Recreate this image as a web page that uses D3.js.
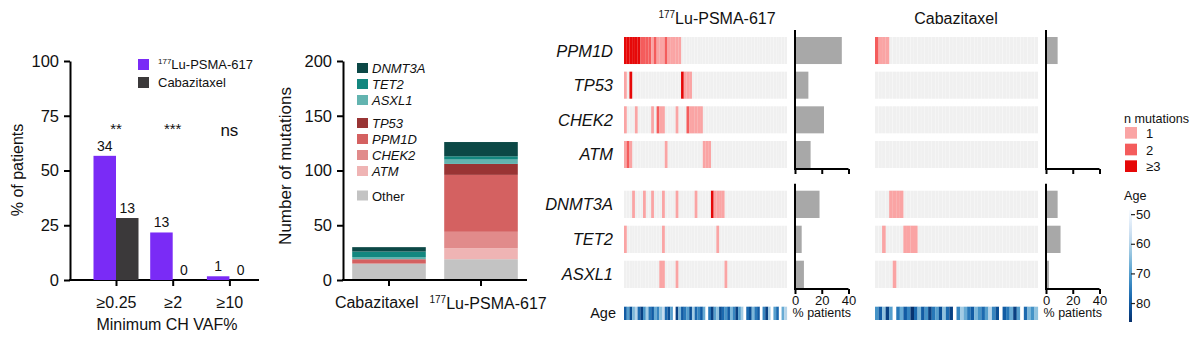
<!DOCTYPE html>
<html><head><meta charset="utf-8">
<script src="https://cdn.jsdelivr.net/npm/d3@7"></script>
<style>
body{margin:0;background:#fff;}
svg{display:block;font-family:"Liberation Sans",Arial,Helvetica,sans-serif;}
</style></head><body>
<svg id="c" width="1200" height="341"></svg>
<script>
// ---------- DATA ----------
// Panel A: % of patients with CH by minimum VAF
const vafCategories = ["≥0.25", "≥2", "≥10"];
const vafLu = [56.7, 21.7, 1.7];
const vafCab = [28.3, 0, 0];
const vafLuN = [34, 13, 1];
const vafCabN = [13, 0, 0];
const vafSig = ["**", "***", "ns"];
const vafTicks = [0, 25, 50, 75, 100];

// Panel B: number of mutations per gene
const stackArms = ["Cabazitaxel", "177Lu-PSMA-617"];
const stackGenes = ["Other", "ATM", "CHEK2", "PPM1D", "TP53", "ASXL1", "TET2", "DNMT3A"];
const stackCab = [15, 0, 0, 4, 0, 2, 5, 4];
const stackLu = [19, 10, 15, 52, 10, 4, 3, 13];
const stackTicks = [0, 50, 100, 150, 200];
const legendGenes = ["DNMT3A", "TET2", "ASXL1", "TP53", "PPM1D", "CHEK2", "ATM", "Other"];

// Panel C: oncoprint (n mutations per patient; 3 = ≥3)
const genesTop = ["PPM1D", "TP53", "CHEK2", "ATM"];
const genesBottom = ["DNMT3A", "TET2", "ASXL1"];
const nLu = 60;
const nCab = 46;
// sparse: [patient index, n mutations]
const luPPM1D = [[0,3],[1,3],[2,3],[3,3],[4,3],[5,3],[6,2],[7,2],[8,2],[9,2],[10,1],[11,2],[12,1],[13,1],[14,1],[15,2],[16,1],[17,1],[18,1],[19,1],[20,1]];
const luTP53 = [[0,1],[2,3],[21,3],[22,1],[23,1],[24,1]];
const luCHEK2 = [[0,1],[4,1],[10,1],[12,2],[13,1],[14,1],[19,1],[23,2],[24,1],[25,1],[26,1],[27,1],[28,1]];
const luATM = [[0,1],[1,2],[2,1],[15,1],[29,1],[30,1],[31,1]];
const luDNMT3A = [[3,1],[7,1],[10,1],[14,1],[19,1],[26,1],[32,3],[33,1],[34,1],[35,1],[36,1]];
const luTET2 = [[0,1],[14,1],[34,1]];
const luASXL1 = [[13,1],[14,1],[19,1],[37,1]];
const cabPPM1D = [[0,2],[1,1],[2,1],[3,1]];
const cabTP53 = [];
const cabCHEK2 = [];
const cabATM = [];
const cabDNMT3A = [[4,1],[5,1],[6,1],[7,1]];
const cabTET2 = [[2,1],[8,1],[9,1],[10,1],[11,1]];
const cabASXL1 = [[5,1]];
// ages per patient (null = missing)
const luAge = [80,70,82,66,60,78,84,72,62,76,80,68,74,64,58,78,82,70,null,84,66,80,76,70,82,62,78,74,80,68,null,76,84,70,64,82,78,72,80,66,74,84,70,62,null,78,82,66,76,80,null,74,84,62,null,70,78,null,68,60];
const cabAge = [72,80,64,84,70,null,76,68,80,74,86,78,66,80,72,84,76,70,82,64,78,84,null,74,62,68,76,80,66,72,78,70,60,74,82,null,80,76,68,84,70,null,78,66,72,64];
const ageTicks = [50, 60, 70, 80];
const pctTicks = [0, 20, 40];
const nMutLevels = ["1", "2", "≥3"];

// ---------- HELPERS ----------
const svg = d3.select("#c");
const FONT = '"Liberation Sans",Arial,Helvetica,sans-serif';
function luLabel(t, big, small, dy) {
  t.append("tspan").attr("font-size", small).attr("dy", -dy).text("177");
  t.append("tspan").attr("font-size", big).attr("dy", dy).text("Lu-PSMA-617");
}
function styleAxis(g, fs) {
  g.selectAll(".domain").attr("stroke", "#000").attr("stroke-width", 2);
  g.selectAll(".tick line").attr("stroke", "#000").attr("stroke-width", 2);
  g.selectAll(".tick text").attr("font-size", fs).attr("fill", "#111").attr("font-family", FONT);
}

// ---------- PANEL A ----------
{
  const y = d3.scaleLinear().domain([0, 100]).range([280, 61]);
  const x = d3.scalePoint().domain(vafCategories).range([116, 229.4]);
  const xs = d3.scaleBand().domain(["lu", "cab"]).range([-22.5, 22.5]);
  const gA = svg.append("g");
  const ya = gA.append("g").attr("transform", "translate(70,0)")
    .call(d3.axisLeft(y).tickValues(vafTicks).tickSize(6).tickSizeOuter(0).tickPadding(5));
  styleAxis(ya, 16.5);
  const xa = gA.append("g").attr("transform", "translate(0,280)")
    .call(d3.axisBottom(x).tickSize(6).tickSizeOuter(0).tickPadding(11));
  xa.select(".domain").remove();
  styleAxis(xa, 16);
  gA.append("line").attr("x1", 69).attr("x2", 259).attr("y1", 280).attr("y2", 280).attr("stroke", "#000").attr("stroke-width", 2);

  const rows = vafCategories.map((c, i) => ({c, lu: vafLu[i], cab: vafCab[i], luN: vafLuN[i], cabN: vafCabN[i], sig: vafSig[i]}));
  const colA = {lu: "#7a2bf6", cab: "#3b393a"};
  rows.forEach(r => {
    ["lu", "cab"].forEach(k => {
      gA.append("rect").attr("x", x(r.c) + xs(k)).attr("width", xs.bandwidth())
        .attr("y", y(r[k])).attr("height", y(0) - y(r[k])).attr("fill", colA[k]);
      gA.append("text").attr("x", x(r.c) + xs(k) + xs.bandwidth() / 2).attr("y", y(r[k]) - 5)
        .attr("text-anchor", "middle").attr("font-size", 14).attr("fill", "#111").text(r[k + "N"]);
    });
    gA.append("text").attr("x", x(r.c)).attr("y", r.sig === "ns" ? 136 : 134).attr("text-anchor", "middle")
      .attr("font-size", r.sig === "ns" ? 17 : 15).attr("fill", "#111").text(r.sig);
  });
  gA.append("text").attr("transform", "translate(23,170) rotate(-90)").attr("text-anchor", "middle")
    .attr("font-size", 16).attr("fill", "#111").text("% of patients");
  gA.append("text").attr("x", 167).attr("y", 330).attr("text-anchor", "middle")
    .attr("font-size", 16).attr("fill", "#111").text("Minimum CH VAF%");
  // legend
  gA.append("rect").attr("x", 138).attr("y", 59).attr("width", 11).attr("height", 11).attr("fill", colA.lu);
  gA.append("rect").attr("x", 138).attr("y", 77).attr("width", 11).attr("height", 11).attr("fill", colA.cab);
  const t1 = gA.append("text").attr("x", 158).attr("y", 69).attr("fill", "#111");
  luLabel(t1, 13, 8, 5);
  gA.append("text").attr("x", 158).attr("y", 87).attr("font-size", 13).attr("fill", "#111").text("Cabazitaxel");
}

// ---------- PANEL B ----------
{
  const y = d3.scaleLinear().domain([0, 200]).range([280, 61]);
  const x = d3.scaleBand().domain(stackArms).range([343, 527]).paddingInner(0.2).paddingOuter(0.1);
  const colB = {DNMT3A: "#0c4846", TET2: "#13877f", ASXL1: "#63b4b0", TP53: "#993434", PPM1D: "#d46161", CHEK2: "#e18b8b", ATM: "#efb4b4", Other: "#c3c3c3"};
  const table = [stackCab, stackLu].map((vals, i) => {
    const o = {arm: stackArms[i]};
    stackGenes.forEach((g, j) => o[g] = vals[j]);
    return o;
  });
  const series = d3.stack().keys(stackGenes)(table);
  const gB = svg.append("g");
  series.forEach(s => {
    gB.selectAll(null).data(s).join("rect")
      .attr("x", d => x(d.data.arm)).attr("width", x.bandwidth())
      .attr("y", d => y(d[1])).attr("height", d => y(d[0]) - y(d[1]))
      .attr("fill", colB[s.key]);
  });
  const ya = gB.append("g").attr("transform", "translate(343,0)")
    .call(d3.axisLeft(y).tickValues(stackTicks).tickSize(6).tickSizeOuter(0).tickPadding(5));
  styleAxis(ya, 16.5);
  const xa = gB.append("g").attr("transform", "translate(0,280)")
    .call(d3.axisBottom(x).tickSize(6).tickSizeOuter(0).tickPadding(11));
  xa.select(".domain").remove();
  styleAxis(xa, 16);
  // labels sit off-centre in the reference so they do not collide
  xa.selectAll(".tick text").filter(d => d === "Cabazitaxel")
    .attr("text-anchor", "end").attr("x", 29.5);
  xa.selectAll(".tick text").filter(d => d === "177Lu-PSMA-617").text(null)
    .attr("dy", null).attr("y", 28.5).attr("text-anchor", "start").attr("x", -51.5).each(function() {
      luLabel(d3.select(this), 16, 10, 6);
    });
  gB.append("line").attr("x1", 342).attr("x2", 527).attr("y1", 280).attr("y2", 280).attr("stroke", "#000").attr("stroke-width", 2);
  gB.append("text").attr("transform", "translate(291,166) rotate(-90)").attr("text-anchor", "middle")
    .attr("font-size", 17).attr("fill", "#111").text("Number of mutations");
  // legend
  const legYs = {DNMT3A: 68, TET2: 84, ASXL1: 100, TP53: 123, PPM1D: 139, CHEK2: 155, ATM: 171, Other: 195.5};
  legendGenes.forEach(g => {
    gB.append("rect").attr("x", 357).attr("y", legYs[g] - 5).attr("width", 11).attr("height", 10).attr("fill", colB[g]);
    gB.append("text").attr("x", 372).attr("y", legYs[g] + 5).attr("font-size", 13)
      .attr("font-style", g === "Other" ? "normal" : "italic").attr("fill", "#111").text(g);
  });
}

// ---------- PANEL C ----------
{
  const mutCol = d3.scaleOrdinal().domain([1, 2, 3]).range(["#faa4a4", "#f45c5c", "#e60808"]);
  const ageCol = d3.scaleSequential(d3.interpolateBlues).domain([48.6, 86.4]);
  const yTop = d3.scaleBand().domain(genesTop).range([37, 168]).paddingInner(0.22);
  const yBot = d3.scaleBand().domain(genesBottom).range([190.7, 288]).paddingInner(0.22);
  const gC = svg.append("g");
  const luData = {PPM1D: luPPM1D, TP53: luTP53, CHEK2: luCHEK2, ATM: luATM, DNMT3A: luDNMT3A, TET2: luTET2, ASXL1: luASXL1};
  const cabData = {PPM1D: cabPPM1D, TP53: cabTP53, CHEK2: cabCHEK2, ATM: cabATM, DNMT3A: cabDNMT3A, TET2: cabTET2, ASXL1: cabASXL1};

  function arm(n, data, ages, x0, x1, px0, title, isLu) {
    const x = d3.scaleBand().domain(d3.range(n)).range([x0, x1]).paddingInner(0.07);
    const xa = d3.scaleBand().domain(d3.range(n)).range([x0, x1]);
    const px = d3.scaleLinear().domain([0, 40]).range([px0, px0 + 53.5]);
    const g = gC.append("g");
    [[genesTop, yTop], [genesBottom, yBot]].forEach(([genes, ys]) => {
      genes.forEach(gene => {
        g.selectAll(null).data(d3.range(n)).join("rect")
          .attr("x", d => x(d)).attr("width", x.bandwidth())
          .attr("y", ys(gene)).attr("height", ys.bandwidth()).attr("fill", "#f0f0f0");
        g.selectAll(null).data(data[gene]).join("rect")
          .attr("x", d => xa(d[0])).attr("width", xa.bandwidth() + 0.05)
          .attr("y", ys(gene)).attr("height", ys.bandwidth()).attr("fill", d => mutCol(d[1]));
        const pct = data[gene].length / n * 100;
        if (pct > 0) g.append("rect").attr("x", px(0)).attr("width", px(pct) - px(0))
          .attr("y", ys(gene)).attr("height", ys.bandwidth()).attr("fill", "#a8a8a8");
        if (isLu) g.append("text").attr("x", 613).attr("y", ys(gene) + ys.bandwidth() / 2 + 6)
          .attr("text-anchor", "end").attr("font-size", 16.5).attr("font-style", "italic").attr("fill", "#111").text(gene);
      });
      // axes for percent bars
      const r = ys.range();
      g.append("line").attr("x1", px(0)).attr("x2", px(0)).attr("y1", r[0] - 7).attr("y2", r[1] + 1).attr("stroke", "#000").attr("stroke-width", 2);
      const ax = g.append("g").attr("transform", `translate(0,${r[1] + 1})`)
        .call(d3.axisBottom(px).tickValues(pctTicks).tickSize(5).tickSizeOuter(0).tickPadding(2).tickFormat(genes === genesTop ? "" : d3.format("d")));
      styleAxis(ax, 13);
      ax.select(".domain").attr("d", `M${px(0) - 1},0H${px(40)}`);
    });
    // age row
    g.selectAll(null).data(ages).join("rect")
      .attr("x", (d, i) => xa(i)).attr("width", xa.bandwidth() + 0.1)
      .attr("y", 306.7).attr("height", 13.3).attr("fill", d => d == null ? "#ffffff" : ageCol(d));
    g.append("text").attr("x", px(20)).attr("y", 317).attr("text-anchor", "middle").attr("font-size", 12.5).attr("fill", "#111").text("% patients");
    // title
    const t = g.append("text").attr("x", isLu ? 717 : 956).attr("y", 24).attr("text-anchor", "middle").attr("fill", "#111");
    if (isLu) luLabel(t, 16, 10, 6); else t.attr("font-size", 16).text(title);
  }
  arm(nLu, luData, luAge, 624, 787, 795, "177Lu-PSMA-617", true);
  arm(nCab, cabData, cabAge, 875, 1038, 1046, "Cabazitaxel", false);
  gC.append("text").attr("x", 616).attr("y", 317.5).attr("text-anchor", "end").attr("font-size", 14.5).attr("fill", "#111").text("Age");

  // legend n mutations
  const lg = gC.append("g");
  lg.append("text").attr("x", 1124).attr("y", 123).attr("font-size", 12.6).attr("fill", "#111").text("n mutations");
  const ly = d3.scaleBand().domain(nMutLevels).range([127, 172]).paddingInner(0.3);
  nMutLevels.forEach((lv, i) => {
    lg.append("rect").attr("x", 1125).attr("y", ly(lv)).attr("width", 12).attr("height", ly.bandwidth()).attr("fill", mutCol(i + 1));
    lg.append("text").attr("x", 1146).attr("y", ly(lv) + ly.bandwidth() / 2 + 5).attr("font-size", 13).attr("fill", "#111").text(lv);
  });
  // age colour bar
  lg.append("text").attr("x", 1124).attr("y", 200).attr("font-size", 12.6).attr("fill", "#111").text("Age");
  const ay = d3.scaleLinear().domain([48.6, 86.4]).range([210, 322]);
  const defs = svg.append("defs");
  const grad = defs.append("linearGradient").attr("id", "ageg").attr("x1", 0).attr("x2", 0).attr("y1", 0).attr("y2", 1);
  d3.range(0, 1.01, 0.1).forEach(t => grad.append("stop").attr("offset", t).attr("stop-color", ageCol(48.6 + t * (86.4 - 48.6))));
  lg.append("rect").attr("x", 1129).attr("y", 210).attr("width", 3).attr("height", 112).attr("fill", "url(#ageg)");
  const aax = lg.append("g").attr("transform", "translate(1131,0)")
    .call(d3.axisRight(ay).tickValues(ageTicks).tickSize(4).tickSizeOuter(0).tickPadding(1));
  aax.select(".domain").remove();
  aax.selectAll(".tick line").attr("stroke", "#222").attr("stroke-width", 1.2);
  aax.selectAll(".tick text").attr("font-size", 13).attr("fill", "#111").attr("font-family", FONT);
}
</script></body></html>
